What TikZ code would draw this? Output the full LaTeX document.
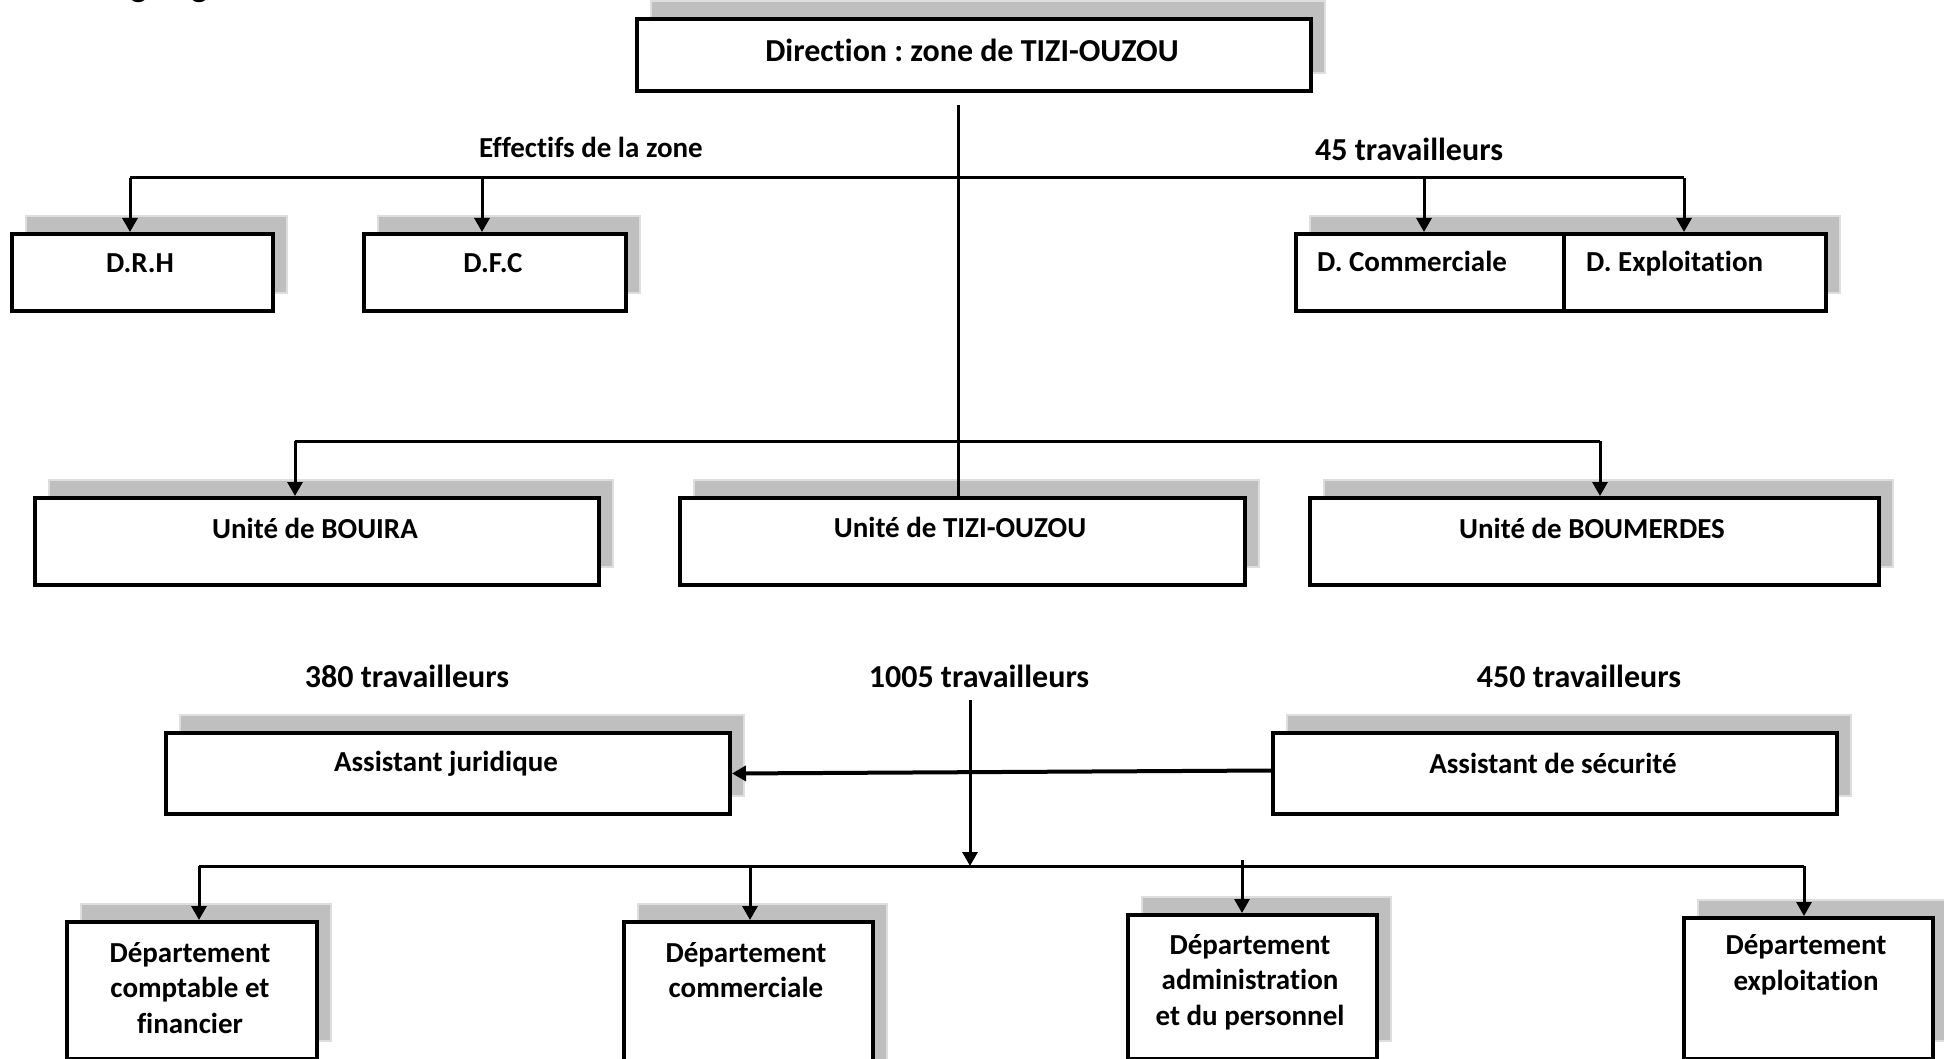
\documentclass[tikz,border=0pt]{standalone}
\usepackage{fontspec}
\setmainfont{Carlito}[Ligatures={NoCommon}]
\usetikzlibrary{arrows.meta}
\definecolor{shd}{RGB}{191,191,191}
\definecolor{shdb}{RGB}{222,222,222}
\tikzset{
  box/.style={draw=black, line width=4pt, fill=white, inner sep=0pt, rectangle},
  shadowbox/.style={fill=shd, draw=shdb, line width=1.2pt},
  txt/.style={font=\fontsize{29}{35.5}\selectfont\bfseries\frenchspacing, inner sep=0pt, align=center},
  bigtxt/.style={txt, font=\fontsize{32}{38}\selectfont\bfseries\frenchspacing},
  conn/.style={line width=3pt},
  arr/.style={line width=3pt, -{Triangle[width=15pt,length=14pt]}},
  thickarr/.style={line width=4pt, -{Triangle[width=15pt,length=14pt]}},
}
% name, x1, y1, x2, y2 (pixel coordinates, y downwards)
\newcommand\plainbox[5]{%
  \node[box, anchor=north west, minimum width={#4-#2}, minimum height={#5-#3}] (#1) at (#2,#3) {};}
\newcommand\obox[5]{%
  \path[shadowbox] ({#2+16},{#3-16}) rectangle ({#4+16},{#5-16});
  \plainbox{#1}{#2}{#3}{#4}{#5}}
\begin{document}
\begin{tikzpicture}[x=1pt,y=-1pt]
\useasboundingbox (0,0) rectangle (1944,1059);

% partially visible title above the picture
\node[anchor=base west, inner sep=0pt, font=\fontsize{36}{40}\selectfont] (title) at (94,-3) {Organigramme};

% boxes
\obox{dir}{635}{17}{1309}{89}
\obox{drh}{10}{232}{271}{309}
\obox{dfc}{362}{232}{624}{309}
\path[shadowbox] (1310,216) rectangle (1840,293);
\plainbox{dcom}{1294}{232}{1562}{309}
\plainbox{dexp}{1562}{232}{1824}{309}
\obox{bouira}{33}{496}{597}{583}
\obox{utizi}{678}{496}{1243}{583}
\obox{boum}{1308}{496}{1877}{583}
\obox{ajur}{164}{731}{728}{812}
\obox{asec}{1271}{731}{1835}{812}
\obox{dcomp}{65}{920}{315}{1057}
\obox{dcomm}{622}{920}{871}{1085}
\obox{dadm}{1126}{913}{1375}{1057}
\obox{dexpl}{1682}{916}{1931}{1057}

% texts in boxes
\node[bigtxt] (tdir) at (972,50) {Direction : zone de TIZI-OUZOU};
\node[txt] (tdrh) at (140,263) {D.R.H};
\node[txt] (tdfc) at (493,263) {D.F.C};
\node[txt, anchor=base west] (tdcom) at (1317,272) {D. Commerciale};
\node[txt, anchor=base west] (tdexp) at (1586,272) {D. Exploitation};
\node[txt] (tbouira) at (315,528) {Unité de BOUIRA};
\node[txt] (tutizi) at (960,527) {Unité de TIZI-OUZOU};
\node[txt] (tboum) at (1592,528) {Unité de BOUMERDES};
\node[txt] (tajur) at (446,764) {Assistant juridique};
\node[txt] (tasec) at (1553,763) {Assistant de sécurité};
\node[txt] (tdcomp) at (190,988) {Département\\comptable et\\financier};
\node[txt] (tdcomm) at (746,970) {Département\\commerciale};
\node[txt] (tdadm) at (1250,982) {Département\\administration\\et du personnel};
\node[txt] (tdexpl) at (1806,965) {Département\\exploitation};

% free labels
\node[txt] (leff) at (591,147) {Effectifs de la zone};
\node[bigtxt] (l45) at (1409,149) {45 travailleurs};
\node[bigtxt] (l380) at (407,676) {380 travailleurs};
\node[bigtxt] (l1005) at (979,676) {1005 travailleurs};
\node[bigtxt] (l450) at (1579,676) {450 travailleurs};

% coordinates of the buses
\coordinate (trunk) at (958,105);
\coordinate (b1L) at (130,178);
\coordinate (b1a) at (482,178);
\coordinate (b1b) at (1424,178);
\coordinate (b1R) at (1684,178);
\coordinate (b2L) at (295,441);
\coordinate (b2R) at (1600,441);
\coordinate (v3) at (970,700);
\coordinate (b3L) at (199,866);
\coordinate (b3a) at (750,866);
\coordinate (b3b) at (1242,860);
\coordinate (b3R) at (1804,866);

% connectors
\draw[conn] (trunk) -- (trunk |- utizi.north);
\draw[conn] (b1L) -- (b1R);
\draw[arr] (b1L) -- (b1L |- drh.north);
\draw[arr] (b1a) -- (b1a |- dfc.north);
\draw[arr] (b1b) -- (b1b |- dcom.north);
\draw[arr] (b1R) -- (b1R |- dexp.north);
\draw[conn] (b2L) -- (b2R);
\draw[arr] (b2L) -- (b2L |- bouira.north);
\draw[arr] (b2R) -- (b2R |- boum.north);
\draw[thickarr] ([yshift=3pt]asec.west) -- (ajur.east);
\draw[arr] (v3) -- (v3 |- b3L);
\draw[conn] (b3L) -- (b3R);
\draw[arr] (b3L) -- (b3L |- dcomp.north);
\draw[arr] (b3a) -- (b3a |- dcomm.north);
\draw[arr] (b3b) -- (b3b |- dadm.north);
\draw[arr] (b3R) -- (b3R |- dexpl.north);
\end{tikzpicture}
\end{document}
